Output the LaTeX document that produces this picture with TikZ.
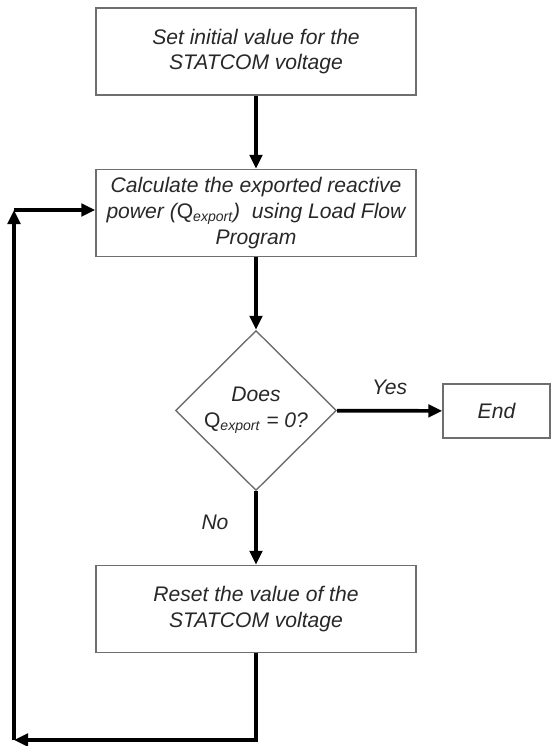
\documentclass[tikz,border=0pt]{standalone}
\usepackage{fontspec}
\setmainfont{Liberation Sans}
\usepackage{tikz}
\usetikzlibrary{arrows.meta,shapes.geometric,positioning}
\usepackage{xcolor}
\definecolor{boxgray}{RGB}{110,110,110}
\definecolor{txtgray}{RGB}{40,40,40}
\tikzstyle{process} = [draw=boxgray, line width=0.8pt, fill=white, minimum width=6.4cm, minimum height=1.74cm, align=center, text=txtgray, font=\fontsize{12}{14.6}\selectfont\itshape]
\tikzstyle{decision} = [draw=boxgray, line width=0.8pt, diamond, minimum width=3.22cm, minimum height=3.2cm, inner sep=0pt, align=center, text=txtgray, font=\fontsize{12}{14.6}\selectfont\itshape]
\tikzstyle{arrow} = [line width=2.1pt, -{Triangle[length=0.28cm,width=0.25cm]}, color=black]
\tikzstyle{label} = [text=txtgray, font=\fontsize{12}{14.6}\selectfont\itshape]

\begin{document}
\begin{tikzpicture}
\useasboundingbox (0,0) rectangle (11.12,-14.92);
% Main steps
\node[process] (init) at (5.12,-1.03) {Set initial value for the\\STATCOM voltage};
\node[process] (calc) at (5.12,-4.26) {Calculate the exported reactive\\power ({\upshape Q}\textsubscript{export})\ \ using Load Flow\\Program};
\node[decision] (check) at (5.12,-8.21) {Does\\{\upshape Q}\textsubscript{export} = 0?};
\node[process, minimum width=2.14cm, minimum height=1.08cm] (end) at (9.93,-8.22) {End};
\node[process] (reset) at (5.12,-12.18) {Reset the value of the\\STATCOM voltage};

% Flow
\draw[arrow] (init) -- (calc);
\draw[arrow] (calc) -- (check);
\draw[arrow] (check) -- node[label, above=0.16cm] {Yes} (end);
\draw[arrow] (check) -- (reset);
\node[label] (no) at (4.3,-10.44) {No};

% Loop back
\coordinate (loopB) at (0.28,-14.8);
\coordinate (loopT) at (0.28,-4.2);
\draw[arrow] (reset.south) |- (loopB);
\draw[arrow] (loopB) -- (loopT);
\draw[arrow] (loopT) -- (loopT -| calc.west);
\end{tikzpicture}
\end{document}
